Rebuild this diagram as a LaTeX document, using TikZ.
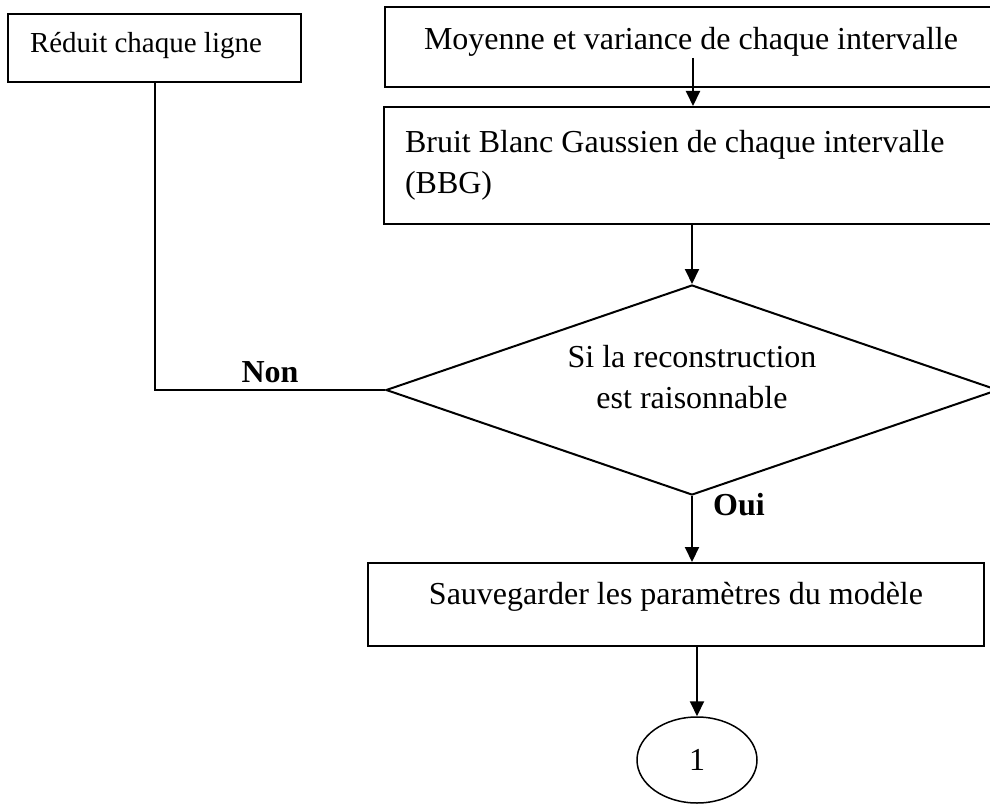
\documentclass[tikz,border=0pt]{standalone}
\usepackage{fontspec}
\setmainfont{Liberation Serif}
\usetikzlibrary{arrows.meta,shapes.geometric}
\begin{document}
\begin{tikzpicture}[x=1pt,y=-1pt,
  every node/.style={font=\fontsize{32}{41}\selectfont},
  box/.style={draw, line width=2pt, rectangle, inner sep=0pt, text height=22pt},
  conn/.style={line width=2pt},
  arr/.style={conn, -{Triangle[length=15pt,width=14pt]}},
  lbl/.style={font=\fontsize{32}{41}\selectfont\bfseries, inner sep=0pt}]
\useasboundingbox[fill=white] (0,0) rectangle (990,805);

\node[box, font=\fontsize{29}{35}\selectfont, minimum width=293pt, minimum height=68pt, text depth=12pt, align=flush left, text width=249pt] (r) at (154.5,48) {Réduit chaque ligne};
\node[box, minimum width=612pt, minimum height=80pt, text depth=16pt] (m) at (691,47) {Moyenne et variance de chaque intervalle};
\node[box, minimum width=613pt, minimum height=117pt, align=flush left, text width=571pt, text depth=48pt] (b) at (690.5,165.5) {Bruit Blanc Gaussien de chaque intervalle\\(BBG)};
\node[draw, diamond, line width=2pt, inner sep=0pt, minimum width=612pt, minimum height=210pt] (d) at (692,390) {};
\node[align=center, inner sep=0pt, text height=22pt, text depth=43pt] (dt) at (692,418.5) {Si la reconstruction\\est raisonnable};
\node[box, minimum width=616pt, minimum height=83pt, text depth=22pt] (s) at (676,604.5) {Sauvegarder les paramètres du modèle};
\node[draw, ellipse, line width=1.5pt, inner sep=0pt, minimum width=120pt, minimum height=86pt] (e) at (697,760) {1};

\node[lbl, anchor=base] (non) at (270,382) {Non};
\node[lbl, anchor=base west] (oui) at (713,515) {Oui};

\coordinate (a1s) at (693,58);
\draw[arr] (a1s) -- (a1s |- b.north);
\draw[arr] (d.north |- b.south) -- (d.north);
\draw[conn] (r.south) |- (d.west);
\draw[arr] (d.south) -- (d.south |- s.north);
\draw[arr] (e.north |- s.south) -- (e.north);
\end{tikzpicture}
\end{document}
